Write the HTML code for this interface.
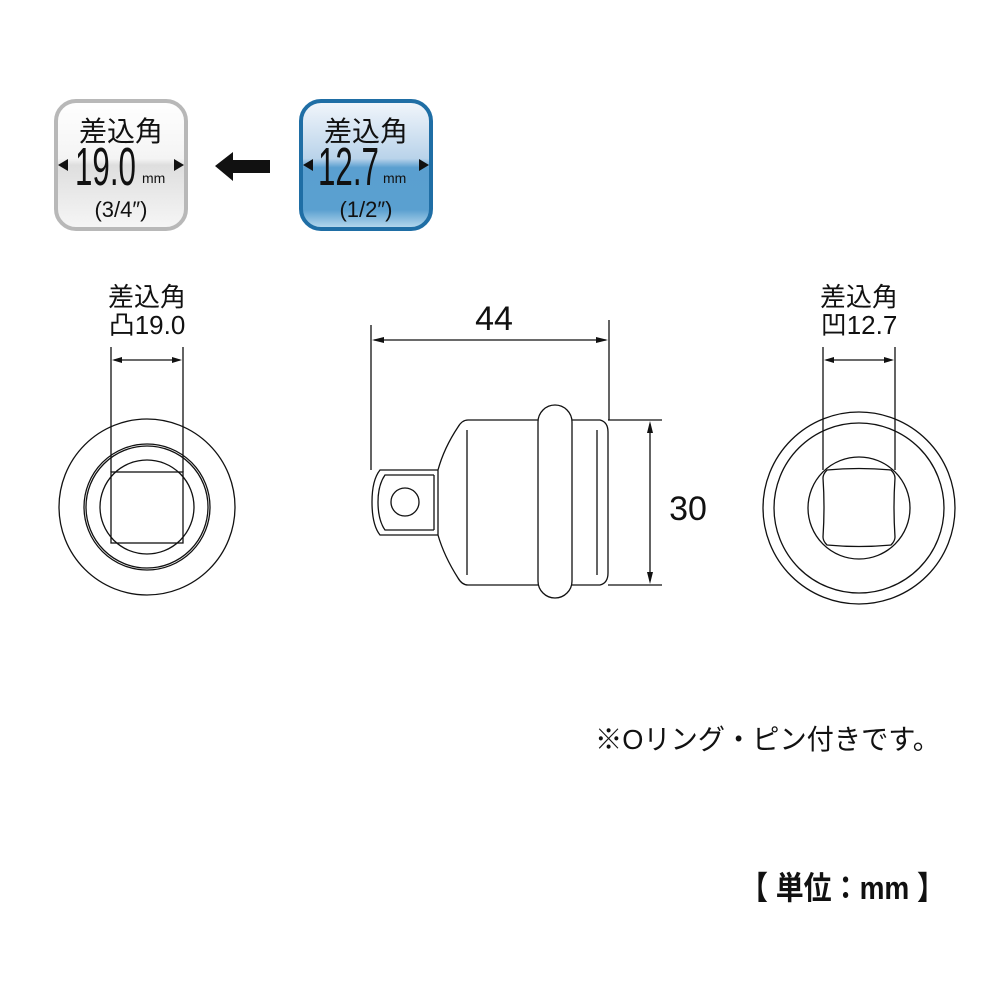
<!DOCTYPE html>
<html><head><meta charset="utf-8"><style>
html,body{margin:0;padding:0;background:#fff;}
svg{display:block;}
text{font-family:"Liberation Sans","Noto Sans CJK JP",sans-serif;fill:#111;}
</style></head><body>
<svg width="1001" height="1001" viewBox="0 0 1001 1001" xmlns="http://www.w3.org/2000/svg">
<defs>
<linearGradient id="gg" x1="0" y1="0" x2="0" y2="1">
<stop offset="0" stop-color="#ffffff"/><stop offset="0.45" stop-color="#f4f4f4"/><stop offset="0.5" stop-color="#dedede"/><stop offset="1" stop-color="#f6f6f6"/>
</linearGradient>
<linearGradient id="bg" x1="0" y1="0" x2="0" y2="1">
<stop offset="0" stop-color="#f2f6fb"/><stop offset="0.45" stop-color="#b9d3ea"/><stop offset="0.52" stop-color="#5a9fd0"/><stop offset="0.85" stop-color="#5aa0d0"/><stop offset="1" stop-color="#bcdcef"/>
</linearGradient>
</defs>

<!-- left badge -->
<rect x="56" y="101" width="130" height="128" rx="20" fill="url(#gg)" stroke="#b8b8b8" stroke-width="4"/>
<text x="121" y="141" font-size="28" text-anchor="middle">差込角</text>
<text transform="translate(75 185) scale(0.58 1)" x="0" y="0" font-size="54">19.0</text>
<text x="142" y="183" font-size="14">mm</text>
<text x="121" y="217" font-size="22" text-anchor="middle">(3/4″)</text>
<polygon points="58,165 68,159 68,171" fill="#111"/>
<polygon points="184,165 174,159 174,171" fill="#111"/>

<!-- arrow -->
<polygon points="215,166 233,152 233,160 270,160 270,173 233,173 233,181" fill="#111"/>

<!-- right badge -->
<rect x="301" y="101" width="130" height="128" rx="20" fill="url(#bg)" stroke="#1f6ea5" stroke-width="4"/>
<text x="366" y="141" font-size="28" text-anchor="middle">差込角</text>
<text transform="translate(318 185) scale(0.58 1)" x="0" y="0" font-size="54">12.7</text>
<text x="383" y="183" font-size="14">mm</text>
<text x="366" y="217" font-size="22" text-anchor="middle">(1/2″)</text>
<polygon points="303,165 313,159 313,171" fill="#111"/>
<polygon points="429,165 419,159 419,171" fill="#111"/>

<g fill="none" stroke="#111" stroke-width="1.3">
<circle cx="147" cy="507" r="88"/>
<circle cx="147" cy="507" r="63"/>
<circle cx="147" cy="507" r="61"/>
<circle cx="147" cy="507" r="47"/>
<rect x="111" y="472" width="72" height="71"/>
<line x1="111" y1="347" x2="111" y2="472"/>
<line x1="183" y1="347" x2="183" y2="472"/>
<line x1="114" y1="360" x2="180" y2="360"/>
<circle cx="859" cy="508" r="96"/>
<circle cx="859" cy="508" r="85"/>
<circle cx="859" cy="508" r="51"/>
<path d="M827,470 Q859,467 891,470 Q895,474 895,478 Q893,507 895,537 Q895,541 891,545 Q859,548 827,545 Q823,541 823,537 Q825,507 823,478 Q823,474 827,470Z"/>
<line x1="823" y1="347" x2="823" y2="470"/>
<line x1="895" y1="347" x2="895" y2="470"/>
<line x1="826" y1="360" x2="892" y2="360"/>
<path d="M468,420 L600,420 Q608,422 608,432 L608,573 Q608,583 600,585 L468,585 Q462,585 458,578 Q444,556 438,535 L438,470 Q444,448 458,427 Q462,420 468,420Z"/>
<line x1="467" y1="430" x2="467" y2="575"/>
<line x1="597" y1="430" x2="597" y2="575"/>
<rect x="538" y="405" width="34" height="193" rx="17" fill="#fff"/>
<path d="M438,470 L380,470 Q372,480 372,502 Q372,525 380,535 L438,535"/>
<path d="M434,475 L385,475 Q378,485 378,502 Q378,520 385,530 L434,530"/>
<line x1="434" y1="475" x2="434" y2="530"/>
<circle cx="405" cy="502" r="14"/>
<line x1="371" y1="325" x2="371" y2="470"/>
<line x1="609" y1="320" x2="609" y2="420"/>
<line x1="374" y1="340" x2="606" y2="340"/>
<line x1="608" y1="420" x2="662" y2="420"/>
<line x1="608" y1="585" x2="662" y2="585"/>
<line x1="650" y1="424" x2="650" y2="581"/>
</g>
<g fill="#111">
<polygon points="112,360 122,357 122,363"/><polygon points="182,360 172,357 172,363"/>
<polygon points="824,360 834,357 834,363"/><polygon points="894,360 884,357 884,363"/>
<polygon points="372,340 384,337 384,343"/><polygon points="608,340 596,337 596,343"/>
<polygon points="650,421 647,433 653,433"/><polygon points="650,584 647,572 653,572"/>
</g>

<text x="147" y="306" font-size="26" text-anchor="middle">差込角</text>
<text x="147" y="334" font-size="26" text-anchor="middle">凸19.0</text>
<text x="859" y="306" font-size="26" text-anchor="middle">差込角</text>
<text x="859" y="334" font-size="26" text-anchor="middle">凹12.7</text>
<text x="494" y="330" font-size="34" text-anchor="middle">44</text>
<text x="688" y="520" font-size="34" text-anchor="middle">30</text>
<text x="595" y="749" font-size="28" textLength="345" lengthAdjust="spacingAndGlyphs">※Oリング・ピン付きです。</text>
<text x="740" y="899" font-size="32" font-weight="bold" textLength="205" lengthAdjust="spacingAndGlyphs">【 単位：mm 】</text>
</svg>
</body></html>
